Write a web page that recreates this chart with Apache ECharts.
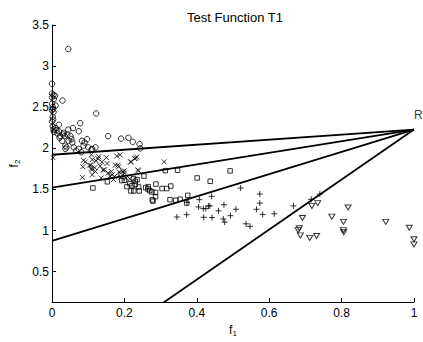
<!DOCTYPE html>
<html>
<head>
<meta charset="utf-8">
<script src="https://cdn.jsdelivr.net/npm/echarts@6/dist/echarts.min.js"></script>
<style>html,body{margin:0;padding:0;background:#fff}#c{width:423px;height:342px}</style>
</head>
<body>
<div id="c"></div>
<script>
// ---- data ----
const circleData = [
  [0.045,3.208],[0.000,2.785],[0.000,2.667],[0.008,2.640],[0.004,2.650],[0.029,2.581],
  [0.000,2.620],[0.000,2.541],[0.002,2.502],[0.000,2.463],[0.004,2.440],[0.002,2.385],
  [0.000,2.326],[0.002,2.267],[0.010,2.247],[0.004,2.230],[0.019,2.287],[0.122,2.424],
  [0.078,2.306],[0.074,2.208],[0.012,2.220],[0.031,2.169],[0.035,2.149],[0.021,2.129],
  [0.058,2.247],[0.045,2.228],[0.019,2.208],[0.032,2.188],[0.042,2.169],[0.051,2.149],
  [0.023,2.149],[0.028,2.091],[0.046,2.091],[0.056,2.071],[0.037,2.032],[0.060,2.012],
  [0.074,1.993],[0.087,2.032],[0.097,2.111],[0.083,2.091],[0.120,2.012],[0.111,1.993],
  [0.037,1.993],[0.054,2.111],[0.067,1.973],[0.081,1.953],[0.100,2.012],[0.109,1.985],
  [0.155,2.149],[0.191,2.118],[0.211,2.129],[0.223,2.079],[0.242,2.051],[0.244,2.000],
  [0.090,2.071],[0.040,2.012],[0.003,2.350],[0.003,2.480],[0.005,2.600],[0.010,2.520],
  [0.015,2.180],[0.005,2.200]
];
const crossData = [
  [0.003,1.887],[0.087,1.855],[0.109,1.922],[0.127,1.875],[0.150,1.887],[0.179,1.906],
  [0.188,1.922],[0.217,1.835],[0.228,1.875],[0.234,1.894],[0.310,1.835],[0.107,1.796],
  [0.182,1.796],[0.109,1.758],[0.141,1.738],[0.164,1.718],[0.196,1.718],[0.237,1.738],
  [0.129,1.899],[0.092,1.835],[0.111,1.863],[0.122,1.847],[0.138,1.835],[0.085,1.776],
  [0.104,1.796],[0.118,1.765],[0.133,1.785],[0.152,1.816],[0.175,1.796],[0.184,1.776],
  [0.084,1.647],[0.111,1.679],[0.136,1.640],[0.166,1.679],[0.170,1.620],[0.145,1.738],
  [0.173,1.659],[0.200,1.699],[0.231,1.882],[0.239,1.726],[0.186,1.710],[0.200,1.726],
  [0.219,1.835],[0.155,1.700],[0.160,1.660],[0.190,1.650],[0.205,1.640],[0.215,1.630],
  [0.120,1.720],[0.110,1.740]
];
const squareData = [
  [0.113,1.518],[0.153,1.593],[0.193,1.608],[0.207,1.534],[0.218,1.482],[0.200,1.612],
  [0.191,1.687],[0.225,1.632],[0.230,1.600],[0.221,1.546],[0.226,1.482],[0.241,1.482],
  [0.239,1.530],[0.254,1.663],[0.259,1.522],[0.266,1.534],[0.265,1.506],[0.270,1.487],
  [0.287,1.565],[0.276,1.470],[0.286,1.463],[0.286,1.412],[0.277,1.373],[0.279,1.358],
  [0.304,1.511],[0.317,1.511],[0.328,1.541],[0.326,1.376],[0.342,1.369],[0.354,1.381],
  [0.375,1.428],[0.372,1.334],[0.313,1.729],[0.347,1.734],[0.401,1.640],[0.437,1.600],
  [0.492,1.726],[0.215,1.570],[0.230,1.560],[0.235,1.620]
];
const plusData = [
  [0.521,1.518],[0.574,1.444],[0.441,1.416],[0.407,1.376],[0.373,1.341],[0.574,1.334],
  [0.475,1.314],[0.432,1.299],[0.405,1.287],[0.418,1.267],[0.425,1.267],[0.508,1.259],
  [0.460,1.240],[0.565,1.259],[0.582,1.196],[0.614,1.204],[0.493,1.181],[0.345,1.165],
  [0.372,1.193],[0.419,1.161],[0.442,1.158],[0.473,1.141],[0.477,1.102],[0.536,1.082],
  [0.547,1.051],[0.667,1.300],[0.716,1.380],[0.740,1.444],[0.436,1.300]
];
const triangleData = [
  [0.718,1.300],[0.734,1.334],[0.818,1.280],[0.692,1.153],[0.773,1.169],[0.805,1.106],
  [0.922,1.106],[0.987,1.035],[0.683,1.028],[0.680,1.005],[0.805,1.005],[0.806,0.980],
  [0.686,0.941],[0.712,0.911],[0.731,0.934],[1.000,0.894],[1.000,0.832]
];
const refPoint = [1, 2.228];
const refLabel = 'R';
const lineIntercepts = [1.922, 1.522, 0.875, -0.812];
const xTicks = [0, 0.2, 0.4, 0.6, 0.8, 1];
const yTicks = [0.5, 1, 1.5, 2, 2.5, 3, 3.5];
const titleText = 'Test Function T1';

// ---- chart ----
const FONT = "'Liberation Sans', Arial, Helvetica, sans-serif";
const chart = echarts.init(document.getElementById('c'), null, {renderer: 'svg'});

const hollow = {color: 'rgba(0,0,0,0)', borderColor: '#000', borderWidth: 1};
function scatter(data, symbol, size) {
  return {type: 'scatter', data: data, symbol: symbol, symbolSize: size,
    itemStyle: hollow, clip: false, silent: true, z: 3};
}
const lineSeries = lineIntercepts.map(b => ({
  type: 'line', data: [[0, b], refPoint], symbol: 'none', clip: true,
  lineStyle: {color: '#000', width: 1.8}, silent: true, z: 4
}));

chart.setOption({
  animation: false,
  backgroundColor: '#fff',
  textStyle: {fontFamily: FONT},
  title: {text: titleText, left: 230, top: 6, textAlign: 'center',
    textStyle: {fontFamily: FONT, fontSize: 13, fontWeight: 'normal', color: '#000'}},
  grid: {left: 50.5, right: 9, top: 25, bottom: 30.5, containLabel: false},
  xAxis: {
    type: 'value', min: xTicks[0], max: xTicks[xTicks.length - 1], interval: 0.2,
    axisLine: {lineStyle: {color: '#000', width: 1}},
    axisTick: {inside: true, length: 4, lineStyle: {color: '#000'}},
    axisLabel: {color: '#000', fontSize: 12, margin: 5, fontFamily: FONT},
    splitLine: {show: false},
    name: '{f|f}{s|1}', nameLocation: 'middle', nameGap: 17,
    nameTextStyle: {rich: {
      f: {fontSize: 12, fontFamily: FONT, color: '#000'},
      s: {fontSize: 8, fontFamily: FONT, color: '#000', verticalAlign: 'bottom', padding: [6, 0, 0, 0]}
    }}
  },
  yAxis: {
    type: 'value', min: 0.13, max: 3.5,
    axisLine: {lineStyle: {color: '#000', width: 1}},
    axisTick: {inside: true, length: 4, customValues: yTicks, lineStyle: {color: '#000'}},
    axisLabel: {color: '#000', fontSize: 12, margin: 3, fontFamily: FONT, customValues: yTicks},
    splitLine: {show: false},
    name: '{f|f}{s|2}', nameLocation: 'middle', nameGap: 31, nameRotate: 90,
    nameTextStyle: {rich: {
      f: {fontSize: 12, fontFamily: FONT, color: '#000'},
      s: {fontSize: 8, fontFamily: FONT, color: '#000', verticalAlign: 'bottom', padding: [6, 0, 0, 0]}
    }}
  },
  series: [
    scatter(circleData, 'circle', 5.5),
    scatter(crossData, 'path://M0,0L10,10M10,0L0,10', 5),
    scatter(squareData, 'rect', 4.5),
    scatter(plusData, 'path://M5,0L5,10M0,5L10,5', 6),
    scatter(triangleData, 'path://M0,0L10,0L5,8.7Z', [6, 5]),
    ...lineSeries,
    {type: 'scatter', data: [refPoint], symbolSize: 0, silent: true, clip: false,
      label: {show: true, formatter: refLabel, position: [0, -21], color: '#000',
        fontSize: 12, fontFamily: FONT}}
  ]
});
</script>
</body>
</html>
